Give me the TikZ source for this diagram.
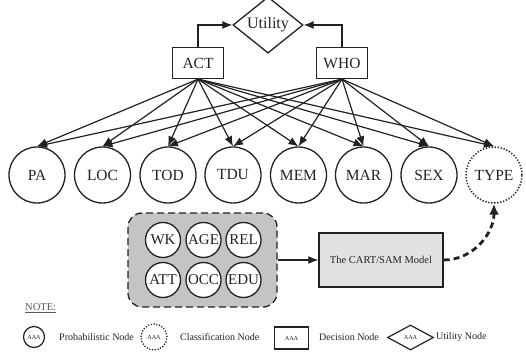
\documentclass[tikz,border=0pt]{standalone}
\usepackage{fontspec}
\setmainfont{Liberation Serif}
\usetikzlibrary{arrows.meta,shapes.geometric}

\definecolor{ink}{HTML}{222222}
\definecolor{boxgray}{HTML}{C4C4C4}
\definecolor{modelgray}{HTML}{E2E2E2}

\tikzset{
	tip/.style={-{Latex[length=10pt,width=8pt]}, line width=1.2pt, draw=ink},
	prob/.style={draw=ink, circle, line width=1.3pt, minimum size=56pt, inner sep=0pt, font=\fontsize{15.5}{15.5}\selectfont, text=ink},
	cls/.style={prob, dash pattern=on 1.3pt off 1.7pt, line width=1.5pt},
	inner/.style={draw=ink, fill=white, circle, line width=1.3pt, minimum size=35pt, inner sep=0pt, font=\fontsize{15}{15}\selectfont, text=ink},
	decision/.style={draw=ink, rectangle, line width=1.3pt, minimum width=51pt, minimum height=31pt, inner sep=0pt, font=\fontsize{15.5}{15.5}\selectfont, text=ink},
	utility/.style={draw=ink, diamond, line width=1.3pt, minimum width=70pt, minimum height=40pt, inner sep=0pt, font=\fontsize{16}{16}\selectfont, text=ink},
	legicon/.style={draw=ink, line width=1.2pt, inner sep=0pt, font=\fontsize{6.2}{6.2}\selectfont, text=ink},
	legtext/.style={anchor=west, inner sep=0pt, font=\fontsize{10}{10}\selectfont, text=ink}
}

\begin{document}
\begin{tikzpicture}[x=1pt, y=-1pt]
		\useasboundingbox (0, 0) rectangle (526, 352);

		% decision and utility nodes
		\node[utility] (util) at (268, 25) {Utility};
		\node[decision] (act) at (198, 63) {ACT};
		\node[decision] (who) at (342, 63) {WHO};
		\draw[tip] (act.north) |- (util.west);
		\draw[tip] (who.north) |- (util.east);

		% chance nodes
		\node[prob] (pa) at (37, 175) {PA};
		\node[prob] (loc) at (102.5, 175) {LOC};
		\node[prob] (tod) at (168, 175) {TOD};
		\node[prob] (tdu) at (233, 175) {TDU};
		\node[prob] (mem) at (298.5, 175) {MEM};
		\node[prob] (mar) at (363.5, 175) {MAR};
		\node[prob] (sex) at (429, 175) {SEX};
		\node[cls] (type) at (494, 175) {TYPE};

		\draw[tip] (act.south) -- (pa.north);
		\draw[tip] (act.south) -- (loc.north);
		\draw[tip] (act.south) -- (tod.north);
		\draw[tip] (act.south) -- (tdu.north);
		\draw[tip] (act.south) -- (mem.north);
		\draw[tip] (act.south) -- (mar.north);
		\draw[tip] (act.south) -- (sex.north);
		\draw[tip] (act.south) -- (type.north);

		\draw[tip] (who.south) -- (pa.north);
		\draw[tip] (who.south) -- (loc.north);
		\draw[tip] (who.south) -- (tod.north);
		\draw[tip] (who.south) -- (tdu.north);
		\draw[tip] (who.south) -- (mem.north);
		\draw[tip] (who.south) -- (mar.north);
		\draw[tip] (who.south) -- (sex.north);
		\draw[tip] (who.south) -- (type.north);

		% attributes feeding the classifier
		\node[draw=ink, fill=boxgray, rounded corners=14pt, line width=1.3pt, dash pattern=on 7pt off 4pt, minimum width=149pt, minimum height=94pt] (attrs) at (202.5, 260) {};
		\node[inner] (wk) at (163, 240) {WK};
		\node[inner] (age) at (203.5, 240) {AGE};
		\node[inner] (rel) at (243.5, 240) {REL};
		\node[inner] (att) at (163, 280) {ATT};
		\node[inner] (occ) at (203.5, 280) {OCC};
		\node[inner] (edu) at (243.5, 280) {EDU};

		\node[draw=ink, fill=modelgray, line width=1.3pt, minimum width=124pt, minimum height=54pt, font=\fontsize{10.5}{10.5}\selectfont, text=ink] (cart) at (381, 260) {The CART/SAM Model};
		\draw[tip] (attrs.east) -- (cart.west);
		\draw[draw=ink, line width=2.8pt, dash pattern=on 6pt off 4pt, -{Latex[length=11pt,width=10pt]}] (cart.east) to[out=0, in=-90] (type.south);

		% legend
		\node[anchor=west, inner sep=0pt, font=\fontsize{10.5}{10.5}\selectfont, text=ink!75] (note) at (25, 308) {\underline{NOTE:}};

		\node[legicon, circle, minimum size=21pt] (lprob) at (34, 337) {AAA};
		\node[legtext] (lprobtxt) at (59, 337) {Probabilistic Node};
		\node[legicon, circle, dash pattern=on 1.2pt off 1.6pt, line width=1.3pt, minimum size=26pt] (lcls) at (154, 337) {AAA};
		\node[legtext] (lclstxt) at (180, 337) {Classification Node};
		\node[legicon, rectangle, minimum width=34pt, minimum height=22pt] (ldec) at (291.5, 338) {AAA};
		\node[legtext] (ldectxt) at (319, 337) {Decision Node};
		\node[legicon, diamond, minimum width=46pt, minimum height=25pt] (lutil) at (410.5, 337.5) {AAA};
		\node[legtext] (lutiltxt) at (436, 337) {Utility Node};
	\end{tikzpicture}
\end{document}
